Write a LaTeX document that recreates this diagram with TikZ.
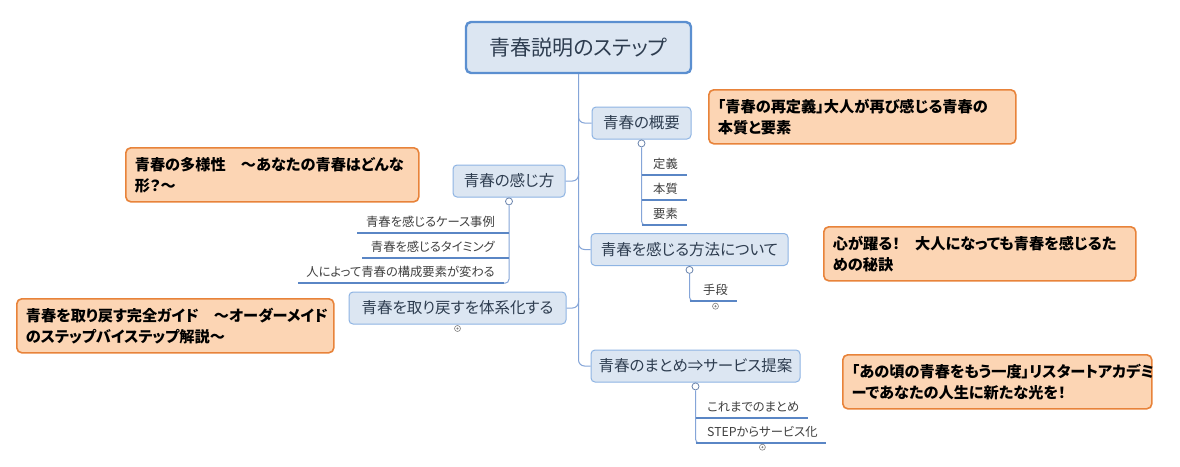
\documentclass[tikz,border=0pt]{standalone}
\usepackage{fontspec}
\setmainfont{Noto Sans CJK JP}[RawFeature={+palt}]
\usetikzlibrary{calc}
\definecolor{bfill}{HTML}{DCE6F2}
\definecolor{bdraw}{HTML}{8EB4E3}
\definecolor{rdraw}{HTML}{5B8FD0}
\definecolor{btext}{HTML}{2E3D50}
\definecolor{conncol}{HTML}{85A5D8}
\definecolor{ulcol}{HTML}{5A86C5}
\definecolor{cfill}{HTML}{FCD5B4}
\definecolor{cdraw}{HTML}{E8833A}
\definecolor{ltext}{HTML}{404040}
\begin{document}
\begin{tikzpicture}[x=1pt,y=-1pt,
 rootbox/.style={draw=rdraw, line width=2.4pt, fill=bfill, rounded corners=5pt, minimum height=51pt, text=btext, font=\fontsize{21}{25}\selectfont, inner sep=0},
 branch/.style={draw=bdraw, line width=1pt, fill=bfill, rounded corners=4pt, minimum height=32pt, text=btext, font=\fontsize{15.5}{18}\selectfont, inner sep=0},
 callout/.style={draw=cdraw, line width=1.6pt, fill=cfill, rounded corners=5pt, minimum height=54pt, inner xsep=9pt, inner ysep=0, align=left, anchor=north west, font=\bfseries\fontsize{15.2}{21}\selectfont},
 leaf/.style={text=ltext, font=\fontsize{12.3}{14}\selectfont, inner sep=0, text height=9pt, text depth=7pt},
 conn/.style={draw=conncol, line width=1pt},
 uline/.style={draw=ulcol, line width=1.8pt},
 knob/.style={circle, draw=conncol!80!black, fill=white, line width=0.8pt, minimum size=7pt, inner sep=0},
 fold/.style={circle, draw=gray, fill=white, line width=0.6pt, minimum size=6pt, inner sep=0}
]
\useasboundingbox[fill=white] (0,0) rectangle (1180,466);

% root and branches
\node[rootbox, minimum width=225pt] (root) at (578.5,47.5) {青春説明のステップ};
\node[branch, minimum width=99pt] (c1) at (641.5,123) {青春の概要};
\node[branch, minimum width=112pt] (c2) at (509,181) {青春の感じ方};
\node[branch, minimum width=197pt] (c3) at (689.5,249.5) {青春を感じる方法について};
\node[branch, minimum width=217pt] (c4) at (457.5,308) {青春を取り戻すを体系化する};
\node[branch, minimum width=209pt] (c5) at (695.5,366) {青春のまとめ⇒サービス提案};

% trunk
\draw[conn, rounded corners=6pt] (root.south) |- (c5.west);
\draw[conn, rounded corners=6pt] ($(root.south |- c1.west)+(0,-10)$) |- (c1.west);
\draw[conn, rounded corners=6pt] ($(root.south |- c2.east)+(0,-10)$) |- (c2.east);
\draw[conn, rounded corners=6pt] ($(root.south |- c3.west)+(0,-10)$) |- (c3.west);
\draw[conn, rounded corners=6pt] ($(root.south |- c4.east)+(0,-10)$) |- (c4.east);

% knobs
\node[knob, anchor=north] (c1k) at (c1.south) {};
\node[knob, anchor=north] (c2k) at (c2.south) {};
\node[knob, anchor=north] (c3k) at (c3.south) {};
\node[knob, anchor=north] (c5k) at (c5.south) {};

% leaves of c1
\node[leaf, anchor=base west] (l1) at (653,168) {定義};
\node[leaf, anchor=base west] (l2) at (653,193) {本質};
\node[leaf, anchor=base west] (l3) at (653,218) {要素};
\draw[conn, rounded corners=4pt] (c1k.south) |- (l3.south west);
\draw[uline] (c1k |- l1.south) -- ($(l1.south east)+(8.5,0)$);
\draw[uline] (c1k |- l2.south) -- ($(l2.south east)+(8.5,0)$);
\draw[uline] (c1k |- l3.south) -- ($(l3.south east)+(8.5,0)$);

% leaves of c2
\node[leaf, anchor=base east] (m1) at (495,226) {青春を感じるケース事例};
\node[leaf, anchor=base east] (m2) at (495,251) {青春を感じるタイミング};
\node[leaf, anchor=base east] (m3) at (495,276) {人によって青春の構成要素が変わる};
\draw[conn, rounded corners=4pt] (c2k.south) |- (m3.south east);
\draw[uline] (c2k |- m1.south) -- ($(m1.south west)+(-8.5,0)$);
\draw[uline] (c2k |- m2.south) -- ($(m2.south west)+(-8.5,0)$);
\draw[uline] ($(c2k |- m3.south)+(-5,0)$) -- ($(m3.south west)+(-8.5,0)$);

% leaves of c3
\node[leaf, anchor=base west] (n1) at (703,294) {手段};
\draw[conn, rounded corners=4pt] (c3k.south) |- (n1.south west);
\draw[uline] (c3k |- n1.south) -- ($(n1.south east)+(8.5,0)$);
\node[fold] (n1f) at ($(n1.south)+(0,5)$) {};
\fill[gray] (n1f) circle (1.1pt);

% fold of c4
\node[fold] (c4f) at ($(c4.south)+(0,4)$) {};
\fill[gray] (c4f) circle (1.1pt);

% leaves of c5
\node[leaf, anchor=base west] (p1) at (707,411) {これまでのまとめ};
\node[leaf, anchor=base west] (p2) at (707,436) {STEPからサービス化};
\draw[conn, rounded corners=4pt] (c5k.south) |- (p2.south west);
\draw[uline] (c5k |- p1.south) -- ($(p1.south east)+(8.5,0)$);
\draw[uline] (c5k |- p2.south) -- ($(p2.south east)+(8.5,0)$);
\node[fold] (p2f) at ($(p2.south)+(0,4)$) {};
\fill[gray] (p2f) circle (1.1pt);

% callouts
\node[callout, text width=289pt] (k1) at (708,89) {「青春の再定義」大人が再び感じる青春の\\本質と要素};
\node[callout, text width=275pt] (k2) at (125,147) {青春の多様性　～あなたの青春はどんな\\形？～};
\node[callout, text width=294pt] (k3) at (823,226) {心が躍る！　大人になっても青春を感じるた\\めの秘訣};
\node[callout, text width=299pt] (k4) at (16,298) {青春を取り戻す完全ガイド　～オーダーメイド\\のステップバイステップ解説～};
\node[callout, text width=291pt] (k5) at (842,354) {「あの頃の青春をもう一度」リスタートアカデミ\\ーであなたの人生に新たな光を！};
\end{tikzpicture}
\end{document}
